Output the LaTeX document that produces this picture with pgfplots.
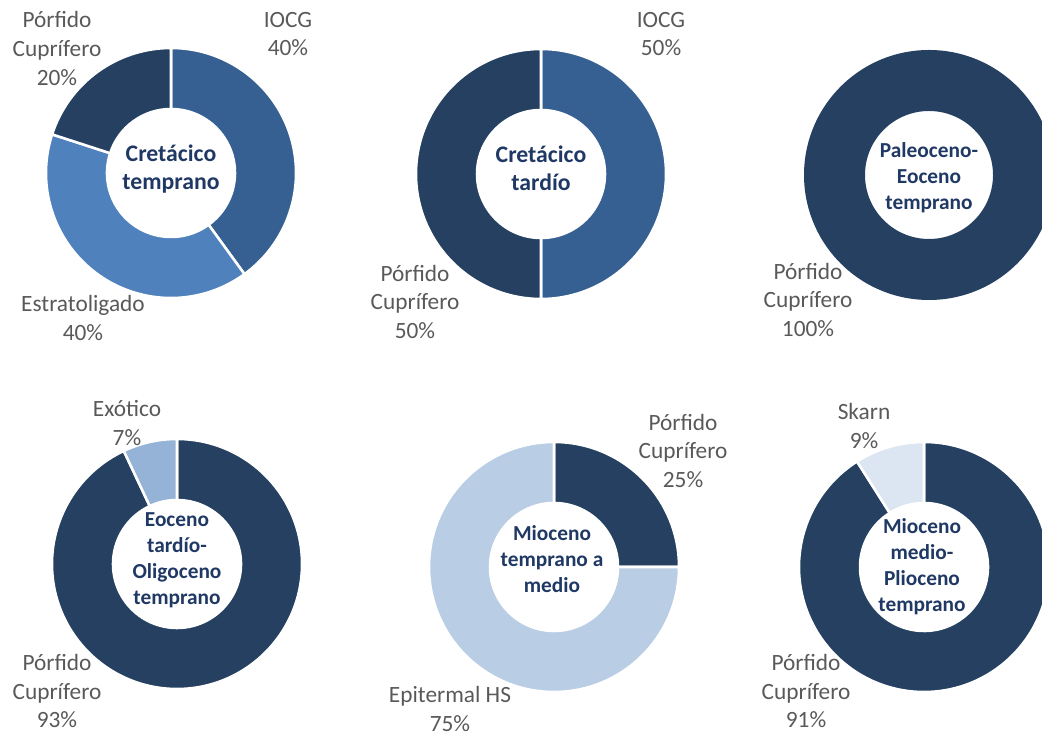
\documentclass[border=0pt]{standalone}
\usepackage{fontspec}
\setmainfont{Carlito}
\usepackage{pgfplots}
\pgfplotsset{compat=1.18}
\definecolor{navy}{HTML}{254061}
\definecolor{midblue}{HTML}{376092}
\definecolor{blueA}{HTML}{4F81BD}
\definecolor{lightA}{HTML}{B9CDE5}
\definecolor{exot}{HTML}{95B3D7}
\definecolor{skarn}{HTML}{DCE6F2}
\definecolor{labgray}{HTML}{595959}
\definecolor{ctrblue}{HTML}{1F3864}
\tikzset{
  lab/.style={font=\fontsize{17.5}{21.5}\selectfont, text=labgray, align=center},
  ctr/.style={font=\bfseries\fontsize{16}{19.5}\selectfont, text=ctrblue, align=center},
  ctrb/.style={font=\bfseries\fontsize{17.8}{21}\selectfont, text=ctrblue, align=center},
}
% ring slice: #1 cx, #2 cy, #3 start share, #4 end share, #5 colour
\newcommand{\slice}[5]{%
  \fill[#5, draw=white, line width=1.9pt]
    (axis cs:{#1+125*cos(90-360*#3)},{#2+125*sin(90-360*#3)})
    arc[start angle={90-360*#3}, end angle={90-360*#4}, radius=93.75pt]
    -- (axis cs:{#1+64*cos(90-360*#4)},{#2+64*sin(90-360*#4)})
    arc[start angle={90-360*#4}, end angle={90-360*#3}, radius=48pt]
    -- cycle;}
\begin{document}
\begin{tikzpicture}
\begin{axis}[
  x=0.75pt, y=0.75pt,
  xmin=0, xmax=1042, ymin=0, ymax=738,
  hide axis,
]
% Cretácico temprano: IOCG 40, Estratoligado 40, Pórfido Cuprífero 20
\slice{171}{565}{0}{0.40}{midblue}
\slice{171}{565}{0.40}{0.80}{blueA}
\slice{171}{565}{0.80}{1.00}{navy}
% Cretácico tardío: IOCG 50, Pórfido Cuprífero 50
\slice{541}{564}{0}{0.50}{midblue}
\slice{541}{564}{0.50}{1.00}{navy}
% Paleoceno-Eoceno temprano: Pórfido Cuprífero 100
\fill[navy, even odd rule] (axis cs:929,563) circle[radius=93.75pt] (axis cs:929,563) circle[radius=48pt];
% Eoceno tardío-Oligoceno temprano: Pórfido 93, Exótico 7
\slice{177}{174}{0}{0.93}{navy}
\slice{177}{174}{0.93}{1.00}{exot}
% Mioceno temprano a medio: Pórfido 25, Epitermal HS 75
\slice{554}{171}{0}{0.25}{navy}
\slice{554}{171}{0.25}{1.00}{lightA}
% Mioceno medio-Plioceno temprano: Pórfido 91, Skarn 9
\slice{924}{171}{0}{0.91}{navy}
\slice{924}{171}{0.91}{1.00}{skarn}

% centre labels
\node[ctrb] at (axis cs:171,569) {Cretácico\\temprano};
\node[ctrb] at (axis cs:541,570) {Cretácico\\tardío};
\node[ctr] at (axis cs:929,560) {Paleoceno-\\Eoceno\\temprano};
\node[ctr] at (axis cs:177,177.5) {Eoceno\\tardío-\\Oligoceno\\temprano};
\node[ctr] at (axis cs:552,179) {Mioceno\\temprano a\\medio};
\node[ctr] at (axis cs:922,171) {Mioceno\\medio-\\Plioceno\\temprano};

% data labels
\node[lab] at (axis cs:57,689.5) {Pórfido\\Cuprífero\\20\%};
\node[lab] at (axis cs:288,704) {IOCG\\40\%};
\node[lab] at (axis cs:83,420) {Estratoligado\\40\%};
\node[lab] at (axis cs:661,704) {IOCG\\50\%};
\node[lab] at (axis cs:415,436) {Pórfido\\Cuprífero\\50\%};
\node[lab] at (axis cs:808,438) {Pórfido\\Cuprífero\\100\%};
\node[lab] at (axis cs:127,315) {Exótico\\7\%};
\node[lab] at (axis cs:57,47) {Pórfido\\Cuprífero\\93\%};
\node[lab] at (axis cs:683,287) {Pórfido\\Cuprífero\\25\%};
\node[lab] at (axis cs:450,29) {Epitermal HS\\75\%};
\node[lab] at (axis cs:864,312) {Skarn\\9\%};
\node[lab] at (axis cs:806,47) {Pórfido\\Cuprífero\\91\%};
\end{axis}
\pgfresetboundingbox
\path (current axis.south west) rectangle (current axis.north east);
\end{tikzpicture}
\end{document}
